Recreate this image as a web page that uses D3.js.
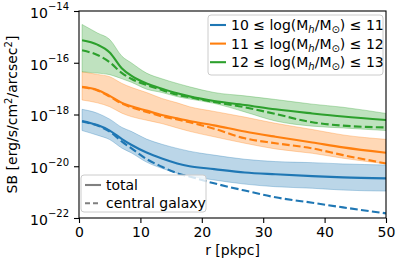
<!DOCTYPE html>
<html>
<head>
<meta charset="utf-8">
<script src="https://cdn.jsdelivr.net/npm/d3@7"></script>
<style>
body { margin: 0; background: #fff; }
text { font-family: "DejaVu Sans", sans-serif; fill: #000; }
</style>
</head>
<body>
<script>
// radius grid in pkpc; all SB values below are log10(SB)
var radius = [0.5, 3, 5, 7, 8.5, 11, 13.5, 16, 18, 22, 27, 32, 38, 43, 50];

// 10 <= log(Mh/Msun) <= 11
var sb10Total   = [-18.25, -18.41, -18.62, -18.95, -19.17, -19.47, -19.70, -19.89, -20.00, -20.11, -20.24, -20.31, -20.38, -20.43, -20.47];
var sb10Central = [-18.27, -18.43, -18.66, -19.05, -19.30, -19.72, -20.02, -20.27, -20.40, -20.66, -20.94, -21.20, -21.41, -21.59, -21.82];
var sb10Hi      = [-17.80, -17.95, -18.18, -18.50, -18.65, -18.95, -19.15, -19.31, -19.42, -19.57, -19.73, -19.82, -19.86, -19.91, -19.95];
var sb10Lo      = [-18.62, -18.80, -18.97, -19.30, -19.48, -19.84, -20.08, -20.27, -20.38, -20.53, -20.69, -20.79, -20.85, -20.92, -20.96];

// 11 <= log(Mh/Msun) <= 12
var sb11Total   = [-16.93, -17.05, -17.28, -17.55, -17.68, -17.85, -18.02, -18.15, -18.25, -18.42, -18.66, -18.86, -19.08, -19.27, -19.48];
var sb11Central = [-16.95, -17.07, -17.31, -17.58, -17.72, -17.90, -18.07, -18.19, -18.30, -18.55, -18.92, -19.11, -19.31, -19.57, -19.89];
var sb11Hi      = [-16.35, -16.45, -16.54, -16.80, -16.95, -17.15, -17.38, -17.55, -17.70, -17.88, -18.10, -18.34, -18.58, -18.79, -18.96];
var sb11Lo      = [-17.44, -17.55, -17.70, -17.95, -18.08, -18.22, -18.35, -18.52, -18.65, -18.86, -19.11, -19.33, -19.50, -19.69, -19.91];

// 12 <= log(Mh/Msun) <= 13
var sb12Total   = [-15.13, -15.30, -15.60, -16.22, -16.50, -16.80, -17.00, -17.18, -17.30, -17.48, -17.63, -17.80, -17.96, -18.08, -18.21];
var sb12Central = [-15.52, -15.70, -15.98, -16.40, -16.62, -16.86, -17.05, -17.24, -17.33, -17.52, -17.72, -17.98, -18.30, -18.43, -18.50];
var sb12Hi      = [-14.52, -14.85, -15.10, -15.75, -16.00, -16.40, -16.62, -16.80, -16.93, -17.15, -17.28, -17.42, -17.60, -17.72, -17.96];
var sb12Lo      = [-16.35, -16.40, -16.46, -16.62, -16.75, -17.02, -17.15, -17.31, -17.40, -17.57, -17.90, -18.25, -18.45, -18.52, -18.62];

var binLow = [10, 11, 12];
var binHigh = [11, 12, 13];
var binColors = ["#1f77b4", "#ff7f0e", "#2ca02c"];

var xTicks = [0, 10, 20, 30, 40, 50];
var yTickExp = [-14, -16, -18, -20, -22];

var bins = [
    {total: sb10Total, central: sb10Central, hi: sb10Hi, lo: sb10Lo},
    {total: sb11Total, central: sb11Central, hi: sb11Hi, lo: sb11Lo},
    {total: sb12Total, central: sb12Central, hi: sb12Hi, lo: sb12Lo}
];

var margin = {top: 11, right: 13, bottom: 48, left: 79};
var svgWidth = 399, svgHeight = 266;
var chartWidth = svgWidth - margin.left - margin.right;
var chartHeight = svgHeight - margin.top - margin.bottom;

var svg = d3.select("body").append("svg")
    .attr("width", svgWidth)
    .attr("height", svgHeight);

var chartGroup = svg.append("g")
    .attr("transform", `translate(${margin.left}, ${margin.top})`);

var x = d3.scaleLinear().domain([0, 50]).range([0, chartWidth]);
var y = d3.scaleLog().domain([1e-22, 1e-14]).range([chartHeight, 0]);

chartGroup.append("clipPath").attr("id", "clip")
    .append("rect").attr("width", chartWidth).attr("height", chartHeight);

var plot = chartGroup.append("g").attr("clip-path", "url(#clip)");

var idx = d3.range(radius.length);
var line = function(arr) {
    return d3.line()
        .x(i => x(radius[i]))
        .y(i => y(Math.pow(10, arr[i])))
        .curve(d3.curveMonotoneX)(idx);
};
var band = function(lo, hi) {
    return d3.area()
        .x(i => x(radius[i]))
        .y0(i => y(Math.pow(10, lo[i])))
        .y1(i => y(Math.pow(10, hi[i])))
        .curve(d3.curveMonotoneX)(idx);
};

bins.forEach(function(b, k) {
    plot.append("path")
        .attr("d", band(b.lo, b.hi))
        .attr("fill", binColors[k])
        .attr("fill-opacity", 0.3)
        .attr("stroke", binColors[k])
        .attr("stroke-opacity", 0.3)
        .attr("stroke-width", 1);
});
bins.forEach(function(b, k) {
    plot.append("path")
        .attr("d", line(b.total))
        .attr("fill", "none")
        .attr("stroke", binColors[k])
        .attr("stroke-width", 2.1);
    plot.append("path")
        .attr("d", line(b.central))
        .attr("fill", "none")
        .attr("stroke", binColors[k])
        .attr("stroke-width", 2.1)
        .attr("stroke-dasharray", "7.7,3.3");
});

// axes
var xAxis = chartGroup.append("g")
    .attr("transform", "translate(0," + chartHeight + ")")
    .call(d3.axisBottom(x).tickValues(xTicks).tickSize(5).tickPadding(4).tickSizeOuter(0));
xAxis.selectAll("text").attr("font-size", 14).style("font-family", "DejaVu Sans");

var yAxis = chartGroup.append("g")
    .call(d3.axisLeft(y).tickValues(yTickExp.map(e => Math.pow(10, e)))
        .tickSize(5).tickPadding(5).tickSizeOuter(0).tickFormat(""));
yAxis.selectAll(".tick").each(function(d) {
    var t = d3.select(this).select("text")
        .attr("font-size", 14)
        .attr("dy", "0.45em")
        .attr("x", -10)
        .style("font-family", "DejaVu Sans");
    t.append("tspan").text("10");
    t.append("tspan").attr("font-size", 10).attr("dy", "-0.75em")
        .text("\u2212" + Math.abs(Math.round(Math.log10(d))));
});
svg.selectAll(".domain").remove();
svg.selectAll(".tick line").attr("stroke", "#000").attr("stroke-width", 1.1);

chartGroup.append("rect")
    .attr("width", chartWidth).attr("height", chartHeight)
    .attr("fill", "none").attr("stroke", "#000").attr("stroke-width", 1.1);

// axis labels
var yLabel = chartGroup.append("text")
    .attr("transform", "rotate(-90)")
    .attr("x", -chartHeight / 2)
    .attr("y", -62)
    .attr("font-size", 14)
    .style("text-anchor", "middle");
yLabel.append("tspan").text("SB [erg/s/cm");
yLabel.append("tspan").attr("font-size", 10).attr("dy", -5).text("2");
yLabel.append("tspan").attr("dy", 5).text("/arcsec");
yLabel.append("tspan").attr("font-size", 10).attr("dy", -5).text("2");
yLabel.append("tspan").attr("dy", 5).text("]");

chartGroup.append("text")
    .attr("x", chartWidth / 2)
    .attr("y", chartHeight + 37)
    .attr("font-size", 14)
    .style("text-anchor", "middle")
    .text("r [pkpc]");

// legend: mass bins
var leg1 = chartGroup.append("g").attr("transform", "translate(129, 4)");
leg1.append("rect")
    .attr("width", 175).attr("height", 60).attr("rx", 3)
    .attr("fill", "#fff").attr("fill-opacity", 0.8)
    .attr("stroke", "#cccccc").attr("stroke-width", 1);
binLow.forEach(function(lo, k) {
    var cy = 10 + k * 18.6;
    leg1.append("line")
        .attr("x1", 2).attr("x2", 18).attr("y1", cy).attr("y2", cy)
        .attr("stroke", binColors[k]).attr("stroke-width", 2.1);
    var t = leg1.append("text").attr("x", 23).attr("y", cy + 5).attr("font-size", 14);
    t.append("tspan").text(lo + " \u2264 log(M");
    t.append("tspan").attr("font-size", 10).attr("dy", 3).attr("font-style", "italic").text("h");
    t.append("tspan").attr("dy", -3).text("/M");
    t.append("tspan").attr("font-size", 10).attr("dy", 3).text("\u2299");
    t.append("tspan").attr("dy", -3).text(") \u2264 " + binHigh[lo - 10]);
});

// legend: line styles
var styleNames = ["total", "central galaxy"];
var styleDash = [null, "5,3"];
var leg2 = chartGroup.append("g").attr("transform", "translate(2, 164)");
leg2.append("rect")
    .attr("width", 125).attr("height", 37).attr("rx", 3)
    .attr("fill", "#fff").attr("fill-opacity", 0.8)
    .attr("stroke", "#cccccc").attr("stroke-width", 1);
styleNames.forEach(function(name, k) {
    var cy = 10 + k * 18.2;
    leg2.append("line")
        .attr("x1", 4).attr("x2", 20).attr("y1", cy).attr("y2", cy)
        .attr("stroke", "#808080").attr("stroke-width", 2.1)
        .attr("stroke-dasharray", styleDash[k]);
    leg2.append("text").attr("x", 25).attr("y", cy + 5).attr("font-size", 14).text(name);
});
</script>
</body>
</html>
